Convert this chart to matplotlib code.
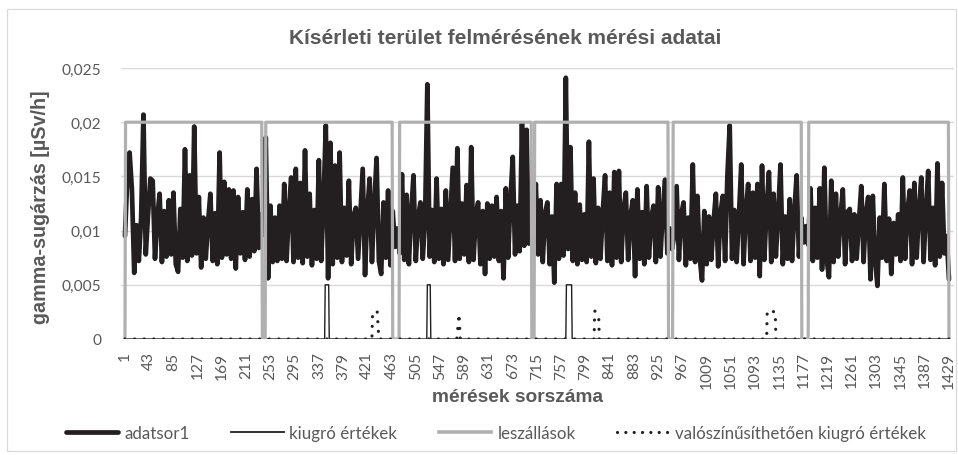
import matplotlib
matplotlib.use("Agg")
import matplotlib.pyplot as plt
from matplotlib.lines import Line2D
from matplotlib.patches import Rectangle
import numpy as np

# ---------------- data ----------------
title = "Kísérleti terület felmérésének mérési adatai"
x_title = "mérések sorszáma"
y_title = "gamma-sugárzás [µSv/h]"
series_names = ["adatsor1", "kiugró értékek", "leszállások",
                "valószínűsíthetően kiugró értékek"]

adatsor1_sorszam = list(range(1, 1430, 4))
adatsor1 = [
    0.0095, 0.0148, 0.0172, 0.0138, 0.0061, 0.0105, 0.0072, 0.0112, 0.0207, 0.0078,
    0.0115, 0.0148, 0.0146, 0.0074, 0.0112, 0.0134, 0.0071, 0.0118, 0.0076, 0.0128,
    0.0078, 0.0135, 0.0069, 0.0062, 0.0120, 0.0075, 0.0175, 0.0072, 0.0151, 0.0077,
    0.0196, 0.0079, 0.0131, 0.0066, 0.0112, 0.0074, 0.0108, 0.0134, 0.0072, 0.0116,
    0.0069, 0.0172, 0.0075, 0.0145, 0.0078, 0.0138, 0.0074, 0.0137, 0.0065, 0.0131,
    0.0079, 0.0117, 0.0073, 0.0138, 0.0076, 0.0129, 0.0081, 0.0157, 0.0084, 0.0115,
    0.0096, 0.0186, 0.0056, 0.0123, 0.0071, 0.0112, 0.0072, 0.0123, 0.0074, 0.0143,
    0.0072, 0.0118, 0.0149, 0.0071, 0.0157, 0.0075, 0.0144, 0.0070, 0.0174, 0.0076,
    0.0134, 0.0068, 0.0119, 0.0074, 0.0165, 0.0072, 0.0124, 0.0197, 0.0056, 0.0181,
    0.0069, 0.0160, 0.0075, 0.0172, 0.0071, 0.0121, 0.0077, 0.0146, 0.0069, 0.0113,
    0.0121, 0.0074, 0.0115, 0.0157, 0.0059, 0.0118, 0.0148, 0.0071, 0.0123, 0.0167,
    0.0072, 0.0060, 0.0126, 0.0075, 0.0137, 0.0068, 0.0118, 0.0085, 0.0102, 0.0079,
    0.0152, 0.0073, 0.0133, 0.0069, 0.0117, 0.0151, 0.0072, 0.0112, 0.0126, 0.0074,
    0.0108, 0.0235, 0.0076, 0.0119, 0.0071, 0.0148, 0.0074, 0.0120, 0.0069, 0.0137,
    0.0073, 0.0116, 0.0158, 0.0072, 0.0176, 0.0074, 0.0125, 0.0078, 0.0142, 0.0071,
    0.0177, 0.0073, 0.0114, 0.0126, 0.0069, 0.0118, 0.0060, 0.0125, 0.0074, 0.0123,
    0.0076, 0.0131, 0.0072, 0.0118, 0.0056, 0.0139, 0.0075, 0.0128, 0.0168, 0.0078,
    0.0123, 0.0081, 0.0199, 0.0086, 0.0193, 0.0088, 0.0121, 0.0092, 0.0143, 0.0078,
    0.0128, 0.0071, 0.0116, 0.0126, 0.0069, 0.0113, 0.0052, 0.0143, 0.0074, 0.0143,
    0.0077, 0.0241, 0.0083, 0.0177, 0.0072, 0.0135, 0.0069, 0.0124, 0.0073, 0.0115,
    0.0071, 0.0182, 0.0076, 0.0148, 0.0070, 0.0121, 0.0074, 0.0117, 0.0151, 0.0072,
    0.0135, 0.0068, 0.0154, 0.0075, 0.0155, 0.0071, 0.0119, 0.0135, 0.0073, 0.0113,
    0.0128, 0.0058, 0.0138, 0.0074, 0.0117, 0.0069, 0.0141, 0.0075, 0.0112, 0.0123,
    0.0071, 0.0140, 0.0076, 0.0118, 0.0147, 0.0079, 0.0102, 0.0083, 0.0096, 0.0141,
    0.0073, 0.0115, 0.0126, 0.0068, 0.0112, 0.0074, 0.0161, 0.0071, 0.0132, 0.0075,
    0.0054, 0.0118, 0.0069, 0.0113, 0.0073, 0.0108, 0.0134, 0.0067, 0.0116, 0.0132,
    0.0072, 0.0151, 0.0197, 0.0074, 0.0119, 0.0071, 0.0114, 0.0161, 0.0069, 0.0118,
    0.0143, 0.0072, 0.0135, 0.0075, 0.0143, 0.0058, 0.0160, 0.0073, 0.0121, 0.0154,
    0.0071, 0.0134, 0.0076, 0.0117, 0.0161, 0.0069, 0.0113, 0.0074, 0.0129, 0.0072,
    0.0118, 0.0151, 0.0076, 0.0112, 0.0089, 0.0104, 0.0087, 0.0139, 0.0072, 0.0121,
    0.0075, 0.0139, 0.0064, 0.0158, 0.0073, 0.0057, 0.0146, 0.0071, 0.0134, 0.0076,
    0.0113, 0.0138, 0.0069, 0.0117, 0.0120, 0.0072, 0.0115, 0.0074, 0.0109, 0.0141,
    0.0071, 0.0116, 0.0131, 0.0055, 0.0132, 0.0073, 0.0049, 0.0112, 0.0075, 0.0143,
    0.0072, 0.0111, 0.0060, 0.0107, 0.0078, 0.0115, 0.0072, 0.0149, 0.0074, 0.0118,
    0.0137, 0.0069, 0.0144, 0.0075, 0.0119, 0.0149, 0.0071, 0.0117, 0.0155, 0.0073,
    0.0121, 0.0068, 0.0162, 0.0076, 0.0144, 0.0079, 0.0095, 0.0055,
]

# kiugró értékek: breakpoints (measurement number, value)
kiugro_sorszam = [1, 347, 348, 354, 355, 524, 525, 530, 531, 765, 766, 775, 776, 1429]
kiugro = [0, 0, 0.005, 0.005, 0, 0, 0.005, 0.005, 0, 0, 0.005, 0.005, 0, 0]

# leszállások: breakpoints (measurement number, value)
leszall_sorszam = [1, 2, 238, 239, 244, 245, 464, 465, 476, 477, 705, 706,
                   710, 711, 942, 943, 950, 951, 1173, 1174, 1185, 1186, 1428, 1429]
leszall = [0, 0.02, 0.02, 0, 0, 0.02, 0.02, 0, 0, 0.02, 0.02, 0,
           0, 0.02, 0.02, 0, 0, 0.02, 0.02, 0, 0, 0.02, 0.02, 0]

# valószínűsíthetően kiugró értékek: breakpoints
valosz_sorszam = [1, 429, 430, 438, 441, 576, 580, 582, 814, 815, 822, 823,
                  1113, 1114, 1128, 1129, 1429]
valosz = [0, 0, 0.0023, 0.0026, 0, 0, 0.0023, 0, 0, 0.0026, 0.0020, 0,
          0, 0.0026, 0.0025, 0, 0]

x_tick_values = list(range(1, 1430, 42))
y_tick_values = [0, 0.005, 0.01, 0.015, 0.02, 0.025]
y_tick_labels = ["0", "0,005", "0,01", "0,015", "0,02", "0,025"]

# ---------------- style ----------------
W, H = 958, 456
TXT = "#595959"
GRID = "#d9d9d9"
BLACK = "#231f20"
GRAY = "#b0b0b0"
TICK_FONT = "Lato"
BOLD_FONT = "Liberation Sans"
DOTS = (0, (0.01, 3.0))

fig = plt.figure(figsize=(W / 100, H / 100), dpi=100)
fig.patches.append(Rectangle((7 / W, 1 - 452 / H), (956 - 7) / W, (452 - 10) / H,
                             transform=fig.transFigure, fill=False,
                             edgecolor=GRID, linewidth=0.9))

ax = fig.add_axes([121 / W, 1 - 340 / H, (954 - 121) / W, (340 - 69) / H])
ax.set_xlim(-5.9, 1437.7)
ax.set_ylim(0, 0.025)
for s in ax.spines.values():
    s.set_visible(False)
ax.set_yticks(y_tick_values)
ax.set_yticklabels(y_tick_labels, fontsize=11.2, color=TXT, family=TICK_FONT)
ax.set_xticks(x_tick_values)
ax.set_xticklabels([str(v) for v in x_tick_values], rotation=90, fontsize=11.2,
                   color=TXT, family=TICK_FONT)
ax.tick_params(axis="both", length=0)
ax.tick_params(axis="y", pad=14)
ax.tick_params(axis="x", pad=9)
ax.grid(axis="y", color=GRID, linewidth=1.0)
ax.set_axisbelow(True)

ax.plot(adatsor1_sorszam, adatsor1, color=BLACK, linewidth=3.4,
        solid_joinstyle="round", solid_capstyle="round", zorder=2)
ax.plot(kiugro_sorszam, kiugro, color=BLACK, linewidth=1.0, zorder=3)
ax.plot(leszall_sorszam, leszall, color=GRAY, linewidth=2.3, zorder=4)
ax.plot(valosz_sorszam, valosz, color=BLACK, linewidth=2.3,
        linestyle=DOTS, dash_capstyle="round", zorder=5)

fig.text(505 / W, 1 - 39 / H, title, ha="center", va="center", fontsize=15,
         fontweight="bold", color=TXT, family=BOLD_FONT)
fig.text(518 / W, 1 - 398 / H, x_title, ha="center", va="center", fontsize=13.8,
         fontweight="bold", color=TXT, family=BOLD_FONT)
fig.text(41 / W, 1 - 207 / H, y_title, ha="center", va="center", rotation=90,
         fontsize=14.2, fontweight="bold", color=TXT, family=BOLD_FONT)

h1 = Line2D([], [], color=BLACK, linewidth=3.4, solid_capstyle="round")
h2 = Line2D([], [], color=BLACK, linewidth=1.3)
h3 = Line2D([], [], color=GRAY, linewidth=2.6)
h4 = Line2D([], [], color=BLACK, linewidth=2.3, linestyle=(0, (0.01, 2.6)),
            dash_capstyle="round")
fig.legend([h1, h2, h3, h4], series_names, loc="center",
           bbox_to_anchor=(496 / W, 1 - 434 / H), ncol=4, frameon=False,
           handlelength=3.1, handletextpad=0.35, columnspacing=2.45,
           prop={"family": TICK_FONT, "size": 12.2}, labelcolor=TXT)

fig.savefig("out.png", dpi=100)
